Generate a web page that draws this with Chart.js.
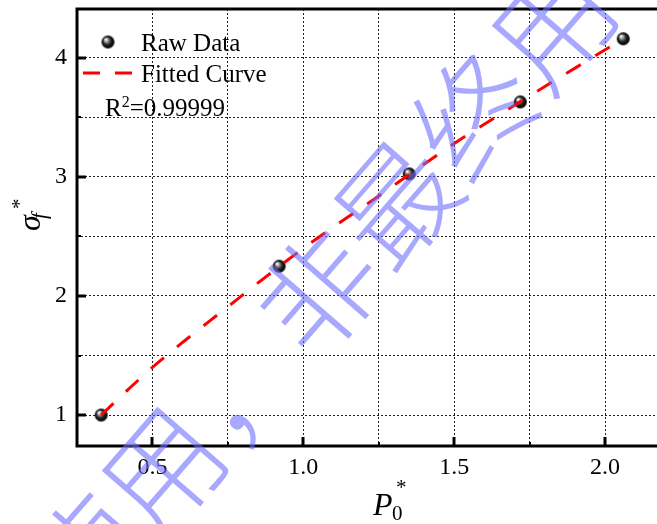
<!DOCTYPE html>
<html><head><meta charset="utf-8">
<script src="https://cdn.jsdelivr.net/npm/chart.js@4/dist/chart.umd.min.js"></script>
<style>html,body{margin:0;padding:0;background:#fff;overflow:hidden}#wrap{width:657px;height:524px;position:relative}</style>
</head><body><div id="wrap"><canvas id="c" width="657" height="524"></canvas></div>
<script>
// ---- data ----
const rawX = [0.33, 0.92, 1.351, 1.719, 2.06];
const rawY = [1.00, 2.25, 3.025, 3.63, 4.16];
const fitX = [0.33, 0.50, 0.75, 1.00, 1.25, 1.50, 1.75, 2.06];
const fitY = [1.00, 1.40, 1.91, 2.40, 2.84, 3.28, 3.68, 4.16];
const xTicks = [0.5, 0.75, 1.0, 1.25, 1.5, 1.75, 2.0];
const xLabels = ['0.5', '', '1.0', '', '1.5', '', '2.0'];
const yTicks = [1, 1.5, 2, 2.5, 3, 3.5, 4];
const yLabels = ['1', '', '2', '', '3', '', '4'];
const seriesNames = ['Raw Data', 'Fitted Curve'];
const r2Label = ['R', '2', '=0.99999'];
const watermarkChars = ['使', '用', '，', '非', '最', '终', '用'];

const SERIF = '"Liberation Serif", "Times New Roman", serif';

function makeSphere(r) {
  const c = document.createElement('canvas');
  c.width = c.height = r * 2 + 2;
  const g = c.getContext('2d');
  const cx = r + 1, cy = r + 1;
  const grad = g.createRadialGradient(cx - r * 0.35, cy - r * 0.4, 0.5, cx, cy, r);
  grad.addColorStop(0, '#ffffff');
  grad.addColorStop(0.25, '#9a9a9a');
  grad.addColorStop(0.6, '#202020');
  grad.addColorStop(1, '#000000');
  g.fillStyle = grad;
  g.beginPath(); g.arc(cx, cy, r, 0, Math.PI * 2); g.fill();
  return c;
}
const sphere = makeSphere(6.5);

const fitData = fitX.map((x, i) => ({x, y: fitY[i]}));
const rawData = rawX.map((x, i) => ({x, y: rawY[i]}));

function noPad(s) { s.paddingTop = 0; s.paddingBottom = 0; s.paddingLeft = 0; s.paddingRight = 0; }

const framePlugin = {
  id: 'frame',
  afterDraw(chart) {
    const ctx = chart.ctx;
    const a = chart.chartArea;
    const xs = chart.scales.x, ys = chart.scales.y;
    ctx.save();
    // inward ticks
    ctx.strokeStyle = '#000';
    xTicks.forEach((v, i) => {
      const px = Math.round(xs.getPixelForValue(v));
      const major = xLabels[i] !== '';
      ctx.lineWidth = major ? 3 : 2;
      ctx.beginPath(); ctx.moveTo(px, a.bottom); ctx.lineTo(px, a.bottom - (major ? 9 : 4)); ctx.stroke();
    });
    yTicks.forEach((v, i) => {
      const py = Math.round(ys.getPixelForValue(v));
      const major = yLabels[i] !== '';
      ctx.lineWidth = major ? 3 : 2;
      ctx.beginPath(); ctx.moveTo(a.left, py); ctx.lineTo(a.left + (major ? 9 : 4), py); ctx.stroke();
    });
    // frame lines
    ctx.lineWidth = 3;
    ctx.beginPath();
    ctx.moveTo(a.right + 2, a.top); ctx.lineTo(a.left, a.top); ctx.lineTo(a.left, a.bottom); ctx.lineTo(a.right + 2, a.bottom);
    ctx.stroke();

    // legend
    ctx.fillStyle = '#000';
    ctx.textAlign = 'left';
    ctx.textBaseline = 'alphabetic';
    ctx.drawImage(sphere, 108 - sphere.width / 2, 42 - sphere.height / 2);
    ctx.font = '25px ' + SERIF;
    ctx.fillText(seriesNames[0], 141, 51);
    ctx.save();
    ctx.strokeStyle = '#ff0000'; ctx.lineWidth = 3; ctx.setLineDash([17, 15]);
    ctx.beginPath(); ctx.moveTo(83, 73); ctx.lineTo(133, 73); ctx.stroke();
    ctx.restore();
    ctx.fillText(seriesNames[1], 141, 82);
    ctx.fillText(r2Label[0], 105, 116);
    let w = ctx.measureText(r2Label[0]).width;
    ctx.font = '16px ' + SERIF;
    ctx.fillText(r2Label[1], 105 + w, 107);
    const w2 = ctx.measureText(r2Label[1]).width;
    ctx.font = '25px ' + SERIF;
    ctx.fillText(r2Label[2], 105 + w + w2, 116);

    // x title: P_0*
    ctx.font = 'italic 32px ' + SERIF;
    ctx.fillText('P', 373, 515);
    ctx.font = '21px ' + SERIF;
    ctx.fillText('0', 392, 520);
    ctx.fillText('*', 396, 494);

    // y title: sigma_f*
    ctx.save();
    ctx.translate(40, 231);
    ctx.rotate(-Math.PI / 2);
    ctx.font = 'italic 32px ' + SERIF;
    ctx.fillText('σ', 0, 0);
    ctx.font = 'italic 21px ' + SERIF;
    ctx.fillText('f', 12, 6);
    ctx.font = '21px ' + SERIF;
    ctx.fillText('*', 22, -14);
    ctx.restore();

    // watermark
    ctx.fillStyle = 'rgba(110,110,255,0.6)';
    ctx.font = '300 118px "Noto Sans CJK SC"';
    ctx.textAlign = 'center';
    ctx.textBaseline = 'middle';
    watermarkChars.forEach((ch, k) => {
      const i = k - 1;
      const cx = 162 + 78 * i, cy = 470 - 89 * i;
      ctx.save();
      ctx.translate(cx, cy);
      ctx.rotate(-49 * Math.PI / 180);
      ctx.fillText(ch, 0, 0);
      ctx.restore();
    });
    ctx.restore();
  }
};

new Chart(document.getElementById('c'), {
  type: 'scatter',
  data: {
    datasets: [
      {
        label: seriesNames[1],
        data: fitData,
        showLine: true,
        borderColor: '#ff0000',
        borderWidth: 3,
        borderDash: [17, 17],
        pointRadius: 0,
        pointHoverRadius: 0,
        cubicInterpolationMode: 'monotone',
        fill: false
      },
      {
        label: seriesNames[0],
        data: rawData,
        showLine: false,
        pointStyle: sphere,
        pointRadius: 6.5,
        pointHoverRadius: 6.5
      }
    ]
  },
  options: {
    responsive: false,
    devicePixelRatio: 1,
    animation: false,
    events: [],
    layout: {autoPadding: false, padding: {left: 0, top: 9, right: 0, bottom: 0}},
    plugins: {legend: {display: false}, tooltip: {enabled: false}, title: {display: false}},
    scales: {
      x: {
        type: 'linear',
        min: 0.25,
        max: 2.172,
        afterBuildTicks: (s) => { s.ticks = xTicks.map(v => ({value: v})); },
        afterFit: (s) => { s.height = 78; noPad(s); },
        ticks: {
          autoSkip: false,
          maxRotation: 0,
          padding: 7,
          color: '#000',
          font: {family: 'Liberation Serif', size: 24},
          callback: (v) => { const i = xTicks.indexOf(v); return i >= 0 ? xLabels[i] : ''; }
        },
        grid: {color: '#222', lineWidth: 1, drawTicks: false},
        border: {display: false, dash: [2, 2]}
      },
      y: {
        type: 'linear',
        min: 0.74,
        max: 4.41,
        afterBuildTicks: (s) => { s.ticks = yTicks.map(v => ({value: v})); },
        afterFit: (s) => { s.width = 77; noPad(s); },
        ticks: {
          autoSkip: false,
          padding: 10,
          color: '#000',
          font: {family: 'Liberation Serif', size: 24},
          callback: (v) => { const i = yTicks.indexOf(v); return i >= 0 ? yLabels[i] : ''; }
        },
        grid: {color: '#222', lineWidth: 1, drawTicks: false},
        border: {display: false, dash: [2, 2]}
      }
    }
  },
  plugins: [framePlugin]
});
</script>
</body></html>
